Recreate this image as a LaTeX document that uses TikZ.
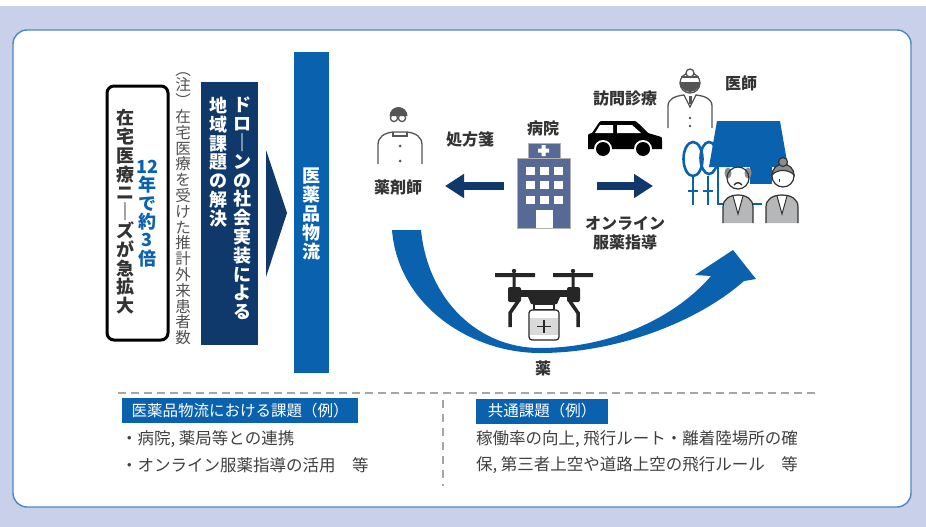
\documentclass[tikz,border=0pt]{standalone}
\usepackage{fontspec}
\setmainfont{Noto Sans CJK JP}
\usetikzlibrary{arrows.meta,positioning,calc}
\definecolor{panelbg}{HTML}{C9D0E9}
\definecolor{frameblue}{HTML}{4A86C8}
\definecolor{navy}{HTML}{10396B}
\definecolor{mainblue}{HTML}{0A62AF}
\definecolor{slate}{HTML}{566A95}
\definecolor{textgray}{HTML}{333333}
\definecolor{bodygray}{HTML}{404040}
\definecolor{notegray}{HTML}{505050}
\definecolor{dashgray}{HTML}{A6A6A6}
\definecolor{icongray}{HTML}{555555}
\definecolor{suitgray}{HTML}{B6B7B9}
\definecolor{hairgray}{HTML}{8C8C8C}
\tikzset{
    tate/.style={align=center, inner sep=0pt, anchor=north, font=\bfseries\fontsize{18}{18.8}\selectfont},
    iconlabel/.style={font=\bfseries\fontsize{16}{19}\selectfont, text=textgray, inner sep=0pt, align=center},
    bodytext/.style={font=\fontsize{16.5}{18}\selectfont, text=bodygray, inner sep=0pt, anchor=west},
    tagbox/.style={fill=mainblue, text=white, font=\fontsize{15.5}{17}\selectfont, inner sep=0pt, minimum height=25pt},
    flowarrow/.style={-{Triangle[length=19pt, width=23pt]}, line width=8pt, navy},
    sepline/.style={dashgray, line width=2.6pt, dash pattern=on 8pt off 5pt},
    outline/.style={draw=icongray, line width=1.3pt},
}

\begin{document}
\begin{tikzpicture}[x=1pt, y=-1pt]
% page and panel
\useasboundingbox (0,0) rectangle (926,527);
\fill[white] (0,0) rectangle (926,6);
\fill[panelbg] (0,6) rectangle (926,527);
\filldraw[fill=white, draw=frameblue, line width=1.4pt, rounded corners=14pt] (13,30) rectangle (911,507);

% left column: needs box, note, theme box, arrow, logistics bar
\draw[black, line width=3pt, rounded corners=7pt] (107,86) rectangle (168,340);
\node[tate, text=textgray] (needs) at (125,109) {在\\宅\\医\\療\\ニ\\｜\\ズ\\が\\急\\拡\\大};
\node[tate, text=mainblue, font=\bfseries\fontsize{18}{18.3}\selectfont] (growth) at (147,160) {12\\年\\で\\約\\3\\倍};
\node[tate, text=notegray, font=\fontsize{15.5}{15.8}\selectfont] (note) at (183,72)
    {︵\\注\\︶\\在\\宅\\医\\療\\を\\受\\け\\た\\推\\計\\外\\来\\患\\者\\数};

\fill[navy] (201,82) rectangle (258,345);
\node[tate, text=white] (themeA) at (242,97) {ド\\ロ\\｜\\ン\\の\\社\\会\\実\\装\\に\\よ\\る};
\node[tate, text=white] (themeB) at (218,97) {地\\域\\課\\題\\の\\解\\決};
\fill[navy] (266,150) -- (287,213) -- (266,277) -- cycle;

\fill[mainblue] (294,52) rectangle (329,373);
\node[tate, text=white] (logistics) at (311,168) {医\\薬\\品\\物\\流};

% big delivery arrow
\fill[mainblue] (392,230) .. controls (398,305) and (470,353) .. (540,353)
    .. controls (620,353) and (700,320) .. (744,281) -- (756,279) -- (733,250) -- (695,275) -- (711,276)
    .. controls (675,318) and (610,348) .. (540,348)
    .. controls (478,348) and (428,300) .. (421,230) -- cycle;

% pharmacist
\fill[icongray] (389.5,116) arc[start angle=180, end angle=0, radius=9pt] -- cycle;
\draw[outline] (394,118) circle (3.6pt) (402,118) circle (3.6pt) (397.6,118) -- (398.4,118);
\draw[outline] (378,164) -- (378,145) .. controls (378,137) and (384,133) .. (393,132)
    -- (407,132) .. controls (416,133) and (422,137) .. (422,145) -- (422,164);
\draw[outline] (393,132) -- (393,136) -- (407,136) -- (407,132);
\fill[icongray] (400,146) circle (1.5pt) (400,161) circle (1.5pt);
\node[iconlabel] (pharmlbl) at (398,187) {薬剤師};

% hospital
\node[iconlabel] (rxlbl) at (470,139) {処方箋};
\node[iconlabel] (hosplbl) at (543,128) {病院};
\filldraw[fill=slate, draw=gray!60, line width=0.8pt] (528,143) rectangle (560,158);
\filldraw[fill=slate, draw=gray!60, line width=0.8pt] (517,158) rectangle (570,228);
\fill[white] (541.5,145) rectangle (545.5,156) (538,148.5) rectangle (549,152.5);
\foreach \cx in {526,540,554}
  \foreach \cy in {167,181,196}
    \fill[white] (\cx,\cy) rectangle ++(8.5,8);
\fill[white] (536,210) rectangle (553,228);

% arrows out of the hospital
\coordinate (hospW) at (504,186);
\coordinate (pharmE) at (445,186);
\coordinate (hospE) at (597,186);
\coordinate (homeW) at (653,186);
\draw[flowarrow] (hospW) -- (pharmE);
\draw[flowarrow] (hospE) -- (homeW);

% visiting car
\node[iconlabel] (visitlbl) at (625,98) {訪問診療};
\fill[black] (588,149) -- (588,138) .. controls (588,134) .. (592,133) -- (598,124)
    .. controls (600,121) .. (604,121) -- (632,121) .. controls (636,121) .. (639,124)
    -- (648,133) -- (658,136) .. controls (662,137) .. (662,141) -- (662,149) -- cycle;
\fill[white] (600,125) -- (613,125) -- (613,133) -- (595,133) -- cycle;
\fill[white] (617,125) -- (632,125) -- (641,133) -- (617,133) -- cycle;
\foreach \wx in {603,643} {
  \fill[white] (\wx,149) circle (9pt);
  \fill[black] (\wx,149) circle (7pt);
}
\node[iconlabel] (onlinelbl) at (625,233) {オンライン\\服薬指導};

% doctor
\node[iconlabel] (doclbl) at (741,83) {医師};
\draw[outline] (690,83) circle (10pt);
\fill[icongray] (680,82) arc[start angle=180, end angle=360, radius=10pt] -- cycle;
\draw[outline] (681,77) -- (699,77);
\filldraw[fill=white, outline] (690,73) circle (4pt);
\draw[outline] (668,128) -- (668,106) .. controls (668,99) and (675,96) .. (684,95)
    -- (690,107) -- (696,95) .. controls (705,96) and (712,99) .. (712,106) -- (712,128);
\fill[icongray] (688.5,96) rectangle (691.5,104);
\fill[icongray] (690,118) circle (1.4pt) (690,126) circle (1.4pt);

% home with trees
\draw[mainblue, line width=2.6pt] (693,205) -- (693,176) (708,205) -- (708,176);
\draw[mainblue, line width=2.6pt] (693,159) ellipse (9.5pt and 17pt);
\draw[mainblue, line width=2.6pt] (709,158) ellipse (8.5pt and 16pt);
\draw[mainblue, line width=2.6pt] (688,191) -- (698,191) (703,191) -- (713,191);
\fill[white] (718,167) rectangle (770,203);
\draw[mainblue, line width=2.6pt] (718,166) -- (718,204) -- (762,204);
\fill[mainblue] (750,166) rectangle (772,184);
\fill[mainblue] (717,121) -- (780,121) -- (788,167) -- (709,167) -- cycle;

% elderly couple
\filldraw[fill=suitgray, draw=black!80, line width=1.2pt] (723,223) -- (723,207)
    .. controls (723,199) and (730,195) .. (738,195) .. controls (746,195) and (753,199) .. (753,207) -- (753,223);
\filldraw[fill=white, draw=black!80, line width=1pt] (733,196) -- (738,214) -- (743,196);
\fill[hairgray] (728,173) ellipse (3.5pt and 5.5pt) (748,173) ellipse (3.5pt and 5.5pt);
\draw[black!80, line width=1.2pt] (738,178) circle (11pt);
\draw[black!80, line width=1.4pt] (734,185) .. controls (736,182) and (740,182) .. (742,185);
\filldraw[fill=suitgray, draw=black!80, line width=1.2pt] (766,223) -- (766,207)
    .. controls (766,199) and (773,195) .. (782,195) .. controls (791,195) and (798,199) .. (798,207) -- (798,223);
\filldraw[fill=white, draw=black!80, line width=1pt] (777,196) -- (782,214) -- (787,196);
\filldraw[fill=white, draw=black!80, line width=1.2pt] (783,176) circle (11pt);
\filldraw[fill=hairgray, draw=black!80, line width=1.2pt] (772,175) arc[start angle=180, end angle=0, radius=11pt]
    .. controls (790,170) and (778,168) .. (772,175);
\filldraw[fill=hairgray, draw=black!80, line width=1.2pt] (783,162) circle (4.5pt);
\draw[black!80, line width=1pt] (779,179) -- (779,182);

% drone carrying medicine
\fill[black!85] (495,273) rectangle (535,277) (553,273) rectangle (593,277);
\fill[black!85] (514,271) circle (2.2pt) (573,271) circle (2.2pt);
\fill[black!85] (512.5,275) rectangle (515.5,288) (571.5,275) rectangle (574.5,288);
\fill[black!85, rounded corners=2pt] (508,287) rectangle (521,302) (567,287) rectangle (580,302);
\fill[black!85] (520,290) rectangle (568,297);
\fill[black!85] (528,297) -- (560,297) -- (557,304) -- (531,304) -- cycle;
\draw[black!85, line width=3.5pt] (519,300) -- (510,313) -- (510,327);
\draw[black!85, line width=3.5pt] (569,300) -- (578,313) -- (578,327);
\filldraw[fill=white, draw=black!85, line width=1.2pt] (534,304) rectangle (554,310);
\filldraw[fill=white, draw=black!85, line width=1.2pt, rounded corners=3pt] (529,310) rectangle (559,340);
\fill[black!15] (530,318) rectangle (558,335);
\draw[black!85, line width=1.5pt] (537,326.5) -- (551,326.5) (544,320) -- (544,333);
\node[iconlabel] (druglbl) at (543,368) {薬};

% separators
\draw[sepline] (118,393) -- (817,393);
\draw[sepline, dash pattern=on 8pt off 6pt] (443,400) -- (443,486);

% issue lists
\node[tagbox, minimum width=236pt] (issueA) at (240,410.5) {医薬品物流における課題（例）};
\node[bodytext] (issueA1) at (121,439) {・病院, 薬局等との連携};
\node[bodytext] (issueA2) at (121,465) {・オンライン服薬指導の活用　等};
\node[tagbox, minimum width=132pt] (issueB) at (542,411) {共通課題（例）};
\node[bodytext] (issueB1) at (476,439) {稼働率の向上, 飛行ルート・離着陸場所の確};
\node[bodytext] (issueB2) at (476,465) {保, 第三者上空や道路上空の飛行ルール　等};
\end{tikzpicture}
\end{document}
